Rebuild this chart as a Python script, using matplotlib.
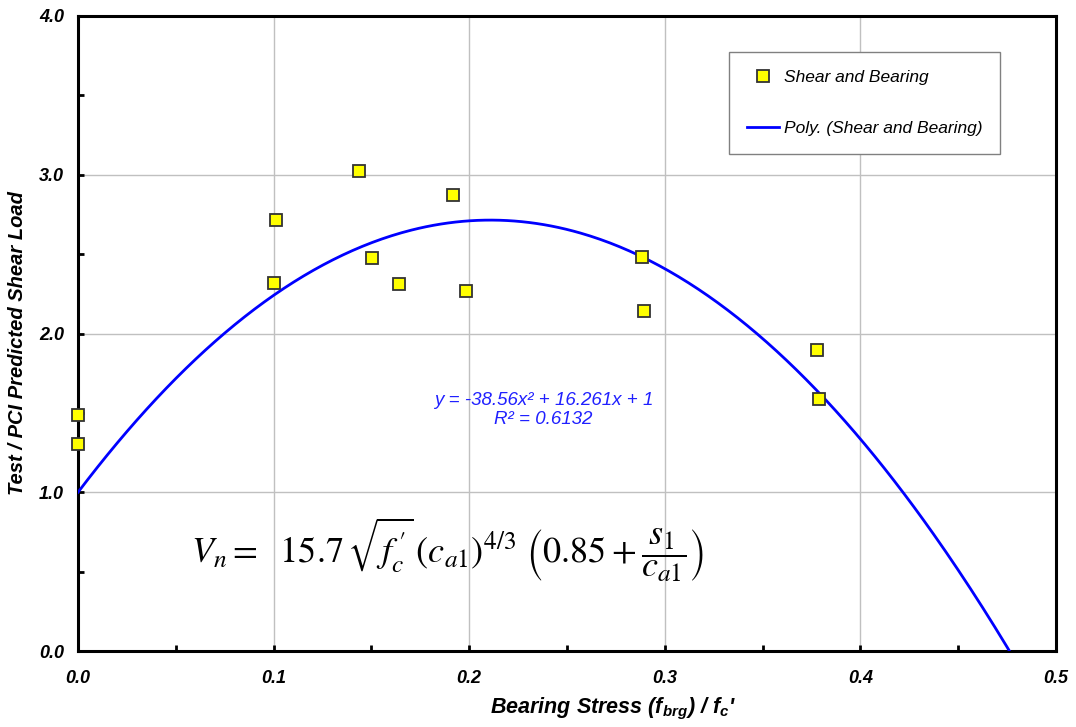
import matplotlib
matplotlib.use('Agg')
import numpy as np
import matplotlib.pyplot as plt
from matplotlib.ticker import MultipleLocator, FormatStrFormatter

# test data (bearing stress ratio vs test/predicted ratio)
x_pts = [0.0, 0.0, 0.101, 0.1003, 0.1435, 0.1503, 0.1643, 0.1918, 0.1983,
         0.2884, 0.2893, 0.3777, 0.3789]
y_pts = [1.487, 1.304, 2.715, 2.320, 3.026, 2.476, 2.312, 2.871, 2.270,
         2.480, 2.144, 1.896, 1.585]

# Excel trendline coefficients (shown on chart)
a2, a1, a0 = -38.56, 16.261, 1.0
r2 = 0.6132

plt.rcParams['font.family'] = ['Liberation Sans', 'DejaVu Sans']
plt.rcParams['mathtext.fontset'] = 'custom'
plt.rcParams['mathtext.rm'] = 'Liberation Sans:bold:italic'
plt.rcParams['mathtext.it'] = 'Liberation Sans:bold:italic'
plt.rcParams['mathtext.bf'] = 'Liberation Sans:bold:italic'

fig = plt.figure(figsize=(10.76, 7.27), dpi=100)
ax = fig.add_axes([0.0725, 0.1045, 0.909, 0.8735])

xs = np.linspace(0, 0.5, 400)
ax.plot(xs, a2 * xs**2 + a1 * xs + a0, color='#0000ff', lw=2.0,
        label='Poly. (Shear and Bearing)', zorder=3)
ax.plot(x_pts, y_pts, 's', ms=9, mfc='#ffff00', mec='#333333', mew=1.3,
        label='Shear and Bearing', zorder=4, clip_on=False)

ax.set_xlim(0, 0.5)
ax.set_ylim(0, 4.0)
ax.xaxis.set_major_locator(MultipleLocator(0.1))
ax.xaxis.set_minor_locator(MultipleLocator(0.05))
ax.yaxis.set_major_locator(MultipleLocator(1.0))
ax.yaxis.set_minor_locator(MultipleLocator(0.5))
ax.xaxis.set_major_formatter(FormatStrFormatter('%.1f'))
ax.yaxis.set_major_formatter(FormatStrFormatter('%.1f'))
ax.tick_params(which='both', direction='in', length=4, width=2)
ax.tick_params(axis='x', pad=14)
ax.tick_params(axis='y', pad=10)
for lab in ax.get_xticklabels() + ax.get_yticklabels():
    lab.set_fontsize(13)
    lab.set_fontweight('bold')
    lab.set_fontstyle('italic')
ax.grid(True, which='major', color='#c0c0c0', lw=1.0)
ax.set_axisbelow(True)
for s in ax.spines.values():
    s.set_linewidth(2.2)

ax.set_xlabel("Bearing Stress (f$_{brg}$) / f$_{c}$'", fontsize=15.5,
              fontweight='bold', style='italic')
ax.xaxis.set_label_coords(0.547, -0.071)
ax.set_ylabel('Test / PCI Predicted Shear Load', fontsize=14.5,
              fontweight='bold', style='italic')
ax.yaxis.set_label_coords(-0.052, 0.485)

handles, labels = ax.get_legend_handles_labels()
leg = ax.legend(handles[::-1], labels[::-1], loc='upper left',
                bbox_to_anchor=(0.666, 0.943), prop={'size': 12.5, 'style': 'italic'},
                fancybox=False, framealpha=1, edgecolor='#808080',
                borderpad=1.0, labelspacing=2.1, handlelength=1.85,
                handletextpad=0.3, borderaxespad=0)
leg.get_frame().set_linewidth(1.0)

ax.text(0.238, 1.518, 'y = -38.56x² + 16.261x + 1\nR² = 0.6132',
        color='#2020ff', fontsize=13.5, style='italic', ha='center', va='center',
        linespacing=1.1)

ax.text(0.189, 0.636,
        r'$V_n =\ \ 15.7\,\sqrt{f_c^{\,\prime}}\,(c_{a1})^{4/3}\ \left(0.85+\dfrac{s_1}{c_{a1}}\right)$',
        fontsize=26, math_fontfamily='stix', ha='center', va='center',
        color='black')

fig.savefig('out.png', dpi=100)
